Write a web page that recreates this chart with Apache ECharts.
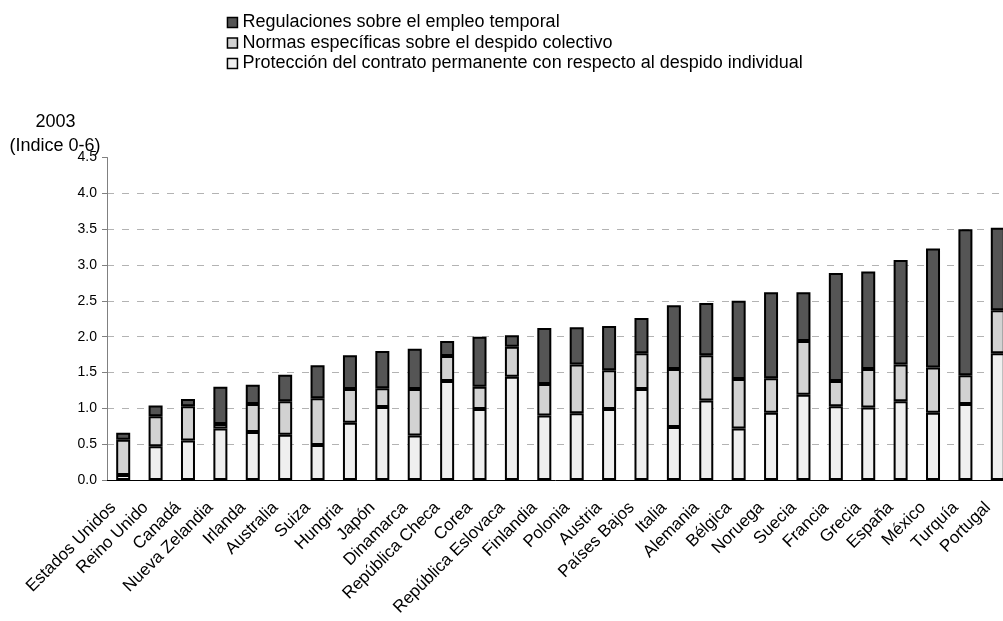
<!DOCTYPE html>
<html>
<head>
<meta charset="utf-8">
<script src="https://cdn.jsdelivr.net/npm/echarts@6/dist/echarts.min.js"></script>
<style>
html,body{margin:0;padding:0;background:#fff;}
#chart{width:1003px;height:621px;}
</style>
</head>
<body>
<div id="chart"></div>
<script>
const categories = ["Estados Unidos","Reino Unido","Canadá","Nueva Zelandia","Irlanda","Australia","Suiza","Hungria","Japón","Dinamarca","República Checa","Corea","República Eslovaca","Finlandia","Polonia","Austria","Países Bajos","Italia","Alemania","Bélgica","Noruega","Suecia","Francia","Grecia","España","México","Turquía","Portugal"];
const proteccion = [0.07,0.47,0.55,0.72,0.67,0.63,0.49,0.80,1.02,0.62,1.38,0.99,1.44,0.90,0.93,0.99,1.27,0.74,1.11,0.72,0.94,1.19,1.03,1.01,1.10,0.94,1.06,1.77];
const normas = [0.49,0.42,0.48,0.06,0.39,0.47,0.65,0.47,0.26,0.65,0.35,0.31,0.42,0.44,0.68,0.54,0.50,0.81,0.63,0.69,0.48,0.75,0.35,0.54,0.51,0.63,0.40,0.60];
const regulaciones = [0.10,0.15,0.10,0.52,0.27,0.37,0.46,0.47,0.52,0.56,0.21,0.70,0.16,0.78,0.52,0.62,0.49,0.89,0.73,1.09,1.20,0.68,1.51,1.36,1.46,1.66,2.04,1.15];
const seriesNames = ["Regulaciones sobre el empleo temporal","Normas específicas sobre el despido colectivo","Protección del contrato permanente con respecto al despido individual"];
const yTitle = ["2003","(Indice 0-6)"];

const FONT = "'Liberation Sans', Arial, sans-serif";
const chart = echarts.init(document.getElementById('chart'), null, {renderer:'canvas'});
const gridColors = ['transparent','#b3b3b3','#b3b3b3','#b3b3b3','#b3b3b3','#b3b3b3','#b3b3b3','#b3b3b3','#b3b3b3','transparent'];
function barSeries(name, data, color){
  return {
    name: name, type: 'bar', stack: 'total', data: data, barWidth: 14,
    itemStyle: {color: color, borderColor: '#000', borderWidth: 2},
    emphasis: {disabled: true}
  };
}
chart.setOption({
  animation: false,
  textStyle: {fontFamily: FONT},
  graphic: [
    {type:'text', x:55.5, y:122.5, style:{text: yTitle[0], textAlign:'center', textVerticalAlign:'middle', fill:'#000', font:'18px ' + FONT}},
    {type:'text', x:55, y:146, style:{text: yTitle[1], textAlign:'center', textVerticalAlign:'middle', fill:'#000', font:'18px ' + FONT}}
  ],
  legend: {
    orient: 'vertical', left: 221.7, top: 7.25, itemWidth: 10, itemHeight: 10, itemGap: 0,
    icon: 'rect',
    data: seriesNames,
    itemStyle: {borderWidth: 1.5, borderColor: '#000'},
    textStyle: {fontSize: 18, color: '#000', fontFamily: FONT, lineHeight: 20.5}
  },
  grid: {left: 107, top: 157.5, width: 907, height: 322.5, containLabel: false, outerBoundsMode: 'none'},
  xAxis: {
    type: 'category', data: categories,
    axisLine: {lineStyle: {color: '#000', width: 1}},
    axisTick: {show: false},
    axisLabel: {rotate: 45, interval: 0, fontSize: 17, color: '#000', fontFamily: FONT, margin: 15, padding: [0, 14, 0, 0]}
  },
  yAxis: {
    type: 'value', min: 0, max: 4.5, interval: 0.5,
    axisLine: {show: true, lineStyle: {color: '#808080', width: 1}},
    axisTick: {show: true, length: 5, lineStyle: {color: '#808080'}},
    axisLabel: {formatter: v => v.toFixed(1), fontSize: 14, color: '#000', fontFamily: FONT, margin: 10},
    splitLine: {show: true, lineStyle: {color: gridColors, type: [7, 8], width: 1}}
  },
  series: [
    barSeries(seriesNames[2], proteccion, '#efefef'),
    barSeries(seriesNames[1], normas, '#d2d2d2'),
    barSeries(seriesNames[0], regulaciones, '#555555')
  ]
});
</script>
</body>
</html>
